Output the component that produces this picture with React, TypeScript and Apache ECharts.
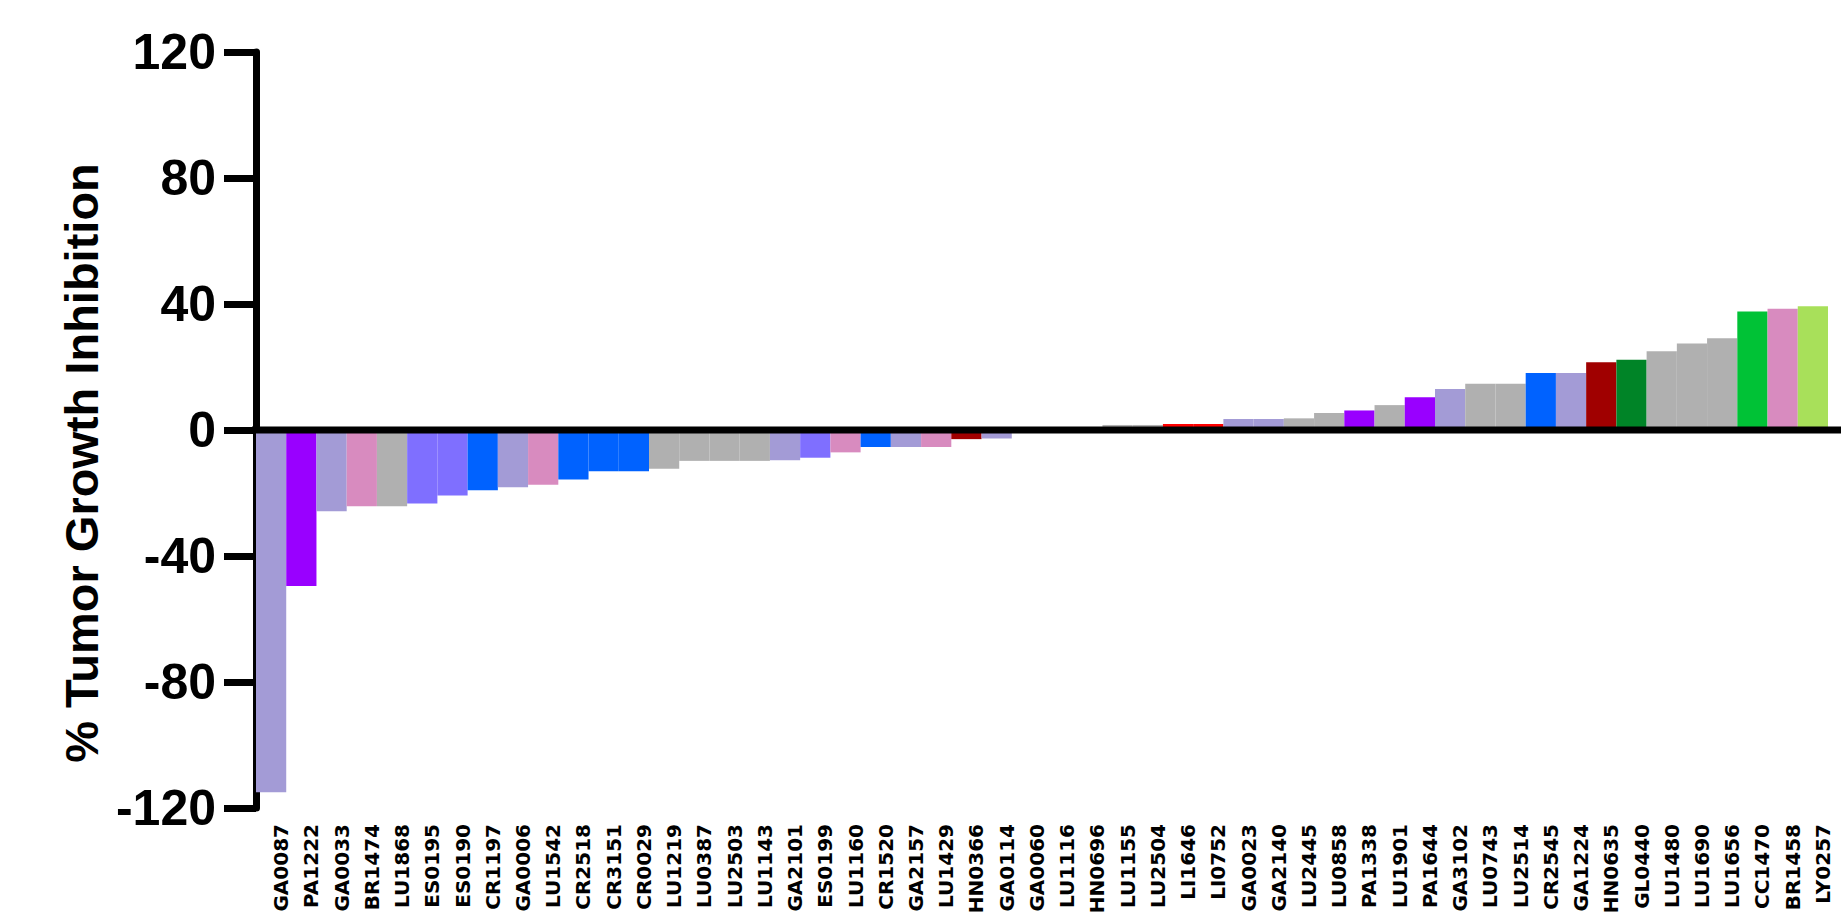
import React, { useEffect, useRef } from "react";
import * as echarts from "echarts";

// PDX models, ordered from strongest growth promotion to strongest inhibition
const models = [
  "GA0087", "PA1222", "GA0033", "BR1474", "LU1868", "ES0195", "ES0190", "CR1197",
  "GA0006", "LU1542", "CR2518", "CR3151", "CR0029", "LU1219", "LU0387", "LU2503",
  "LU1143", "GA2101", "ES0199", "LU1160", "CR1520", "GA2157", "LU1429", "HN0366",
  "GA0114", "GA0060", "LU1116", "HN0696", "LU1155", "LU2504", "LI1646", "LI0752",
  "GA0023", "GA2140", "LU2445", "LU0858", "PA1338", "LU1901", "PA1644", "GA3102",
  "LU0743", "LU2514", "CR2545", "GA1224", "HN0635", "GL0440", "LU1480", "LU1690",
  "LU1656", "CC1470", "BR1458", "LY0257",
];

// % tumor growth inhibition per model
const inhibition = [
  -115, -49.5, -25.8, -24.2, -24.2, -23.3, -20.8, -19.1,
  -18.2, -17.4, -15.7, -13.1, -13.1, -12.3, -9.8, -9.8,
  -9.8, -9.6, -8.8, -7.1, -5.4, -5.4, -5.4, -2.9,
  -2.7, 0, 0, 0, 1.6, 1.6, 1.9, 1.9,
  3.5, 3.5, 3.7, 5.4, 6.2, 7.9, 10.4, 13.0,
  14.7, 14.7, 18.1, 18.1, 21.5, 22.3, 25.0, 27.5,
  29.1, 37.6, 38.5, 39.3,
];

const LAVENDER = "#a39bd6";
const PURPLE = "#9900ff";
const PINK = "#d88bbf";
const GRAY = "#b0b0b0";
const PERIWINKLE = "#7f6fff";
const BLUE = "#0062ff";
const DARK_RED = "#a00000";
const RED = "#ff0000";
const DARK_GREEN = "#008427";
const GREEN = "#00c236";
const LIGHT_GREEN = "#a8e05a";

// fill colour of each model's bar
const barColors = [
  LAVENDER, PURPLE, LAVENDER, PINK, GRAY, PERIWINKLE, PERIWINKLE, BLUE,
  LAVENDER, PINK, BLUE, BLUE, BLUE, GRAY, GRAY, GRAY,
  GRAY, LAVENDER, PERIWINKLE, PINK, BLUE, LAVENDER, PINK, DARK_RED,
  LAVENDER, LAVENDER, GRAY, DARK_RED, GRAY, GRAY, RED, RED,
  LAVENDER, LAVENDER, GRAY, GRAY, PURPLE, GRAY, PURPLE, LAVENDER,
  GRAY, GRAY, BLUE, LAVENDER, DARK_RED, DARK_GREEN, GRAY, GRAY,
  GRAY, GREEN, PINK, LIGHT_GREEN,
];

const Y_MIN = -120;
const Y_MAX = 120;
const Y_STEP = 40;

export default function App() {
  const ref = useRef<HTMLDivElement>(null);

  useEffect(() => {
    const el = ref.current;
    if (!el) return;
    const chart = echarts.init(el, null, { renderer: "svg" });
    chart.setOption({
      animation: false,
      grid: {
        left: 256,
        right: 13,
        top: 52,
        bottom: 109,
        containLabel: false,
        outerBoundsMode: "none",
      },
      xAxis: {
        type: "category",
        data: models,
        position: "bottom",
        axisLine: { show: false, onZero: false },
        axisTick: { show: false },
        axisLabel: {
          interval: 0,
          rotate: 90,
          margin: 16,
          verticalAlign: "top",
          fontFamily: "DejaVu Sans",
          fontWeight: "bold",
          fontSize: 20,
          color: "#000",
        },
        splitLine: { show: false },
      },
      yAxis: {
        type: "value",
        min: Y_MIN,
        max: Y_MAX,
        interval: Y_STEP,
        name: "% Tumor Growth Inhibition",
        nameLocation: "middle",
        nameRotate: 90,
        nameGap: 118,
        nameTextStyle: {
          fontFamily: "Liberation Sans",
          fontWeight: "bold",
          fontSize: 47,
          color: "#000",
          padding: [0, 66, 0, 0],
        },
        axisLine: { show: true, onZero: false, lineStyle: { color: "#000", width: 7 } },
        axisTick: { show: true, length: 32, lineStyle: { color: "#000", width: 7 } },
        axisLabel: {
          margin: 40,
          fontFamily: "Liberation Sans",
          fontWeight: "bold",
          fontSize: 50,
          color: "#000",
        },
        splitLine: { show: false },
      },
      series: [
        {
          type: "bar",
          data: inhibition.map((v, i) => ({ value: v, itemStyle: { color: barColors[i] } })),
          barCategoryGap: "0%",
          barGap: "0%",
        },
      ],
    });

    // zero baseline running from the value axis to the right edge of the page
    const y0 = chart.convertToPixel({ yAxisIndex: 0 }, 0) as number;
    chart.setOption({
      graphic: [
        {
          type: "line",
          z: 10,
          shape: { x1: 252, y1: y0, x2: el.clientWidth, y2: y0 },
          style: { stroke: "#000", lineWidth: 7 },
        },
      ],
    });

    return () => chart.dispose();
  }, []);

  return (
    <div
      ref={ref}
      style={{
        position: "absolute",
        left: 0,
        top: 0,
        width: 1841,
        height: 917,
        overflow: "hidden",
      }}
    />
  );
}
